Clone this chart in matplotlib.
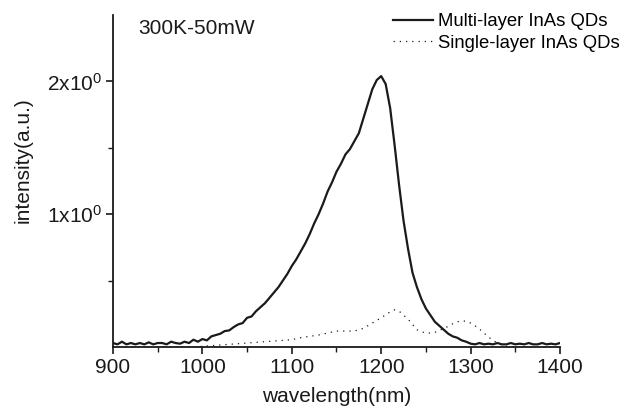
import numpy as np
import matplotlib
matplotlib.use("Agg")
import matplotlib.pyplot as plt
from matplotlib.ticker import FixedLocator

plt.rcParams['font.family'] = ['Liberation Sans', 'DejaVu Sans']
plt.rcParams['mathtext.fontset'] = 'custom'
plt.rcParams['mathtext.rm'] = 'Liberation Sans'
plt.rcParams['mathtext.it'] = 'Liberation Sans:italic'

# Multi-layer InAs QDs (5 nm steps, 900-1400 nm)
multi_wl = list(range(900, 1405, 5))
multi_int = [
    0.03, 0.02, 0.04, 0.02, 0.03, 0.02, 0.03, 0.02, 0.035, 0.02,
    0.03, 0.03, 0.02, 0.04, 0.03, 0.025, 0.04, 0.03, 0.055, 0.04,
    0.06, 0.05, 0.08, 0.09, 0.10, 0.12, 0.125, 0.15, 0.17, 0.18,
    0.22, 0.23, 0.27, 0.30, 0.33, 0.37, 0.41, 0.45, 0.50, 0.55,
    0.61, 0.66, 0.72, 0.78, 0.85, 0.93, 1.00, 1.08, 1.17, 1.24,
    1.32, 1.38, 1.45, 1.49, 1.55, 1.61, 1.72, 1.83, 1.94, 2.01,
    2.04, 1.98, 1.80, 1.52, 1.22, 0.95, 0.74, 0.56, 0.45, 0.36,
    0.29, 0.24, 0.19, 0.16, 0.13, 0.10, 0.08, 0.07, 0.05, 0.04,
    0.025, 0.02, 0.03, 0.02, 0.025, 0.02, 0.03, 0.02, 0.02, 0.03,
    0.02, 0.025, 0.02, 0.03, 0.02, 0.02, 0.03, 0.02, 0.025, 0.02,
    0.03,
]

# Single-layer InAs QDs
single_wl = [900, 950, 990, 1000, 1010, 1020, 1030, 1040, 1050, 1060, 1070,
             1080, 1090, 1100, 1110, 1120, 1130, 1140, 1150, 1160, 1170,
             1180, 1190, 1200, 1210, 1215, 1220, 1225, 1230, 1235, 1240,
             1245, 1250, 1255, 1260, 1265, 1270, 1275, 1280, 1285, 1290,
             1295, 1300, 1305, 1310, 1315, 1320, 1325, 1330, 1335, 1340,
             1350, 1375, 1400]
single_int = [0.0, 0.0, 0.0, 0.005, 0.01, 0.015, 0.02, 0.025, 0.03, 0.035, 0.04,
              0.045, 0.05, 0.055, 0.07, 0.08, 0.09, 0.105, 0.12, 0.12, 0.12,
              0.14, 0.18, 0.22, 0.265, 0.28, 0.27, 0.24, 0.21, 0.17, 0.13,
              0.115, 0.105, 0.105, 0.11, 0.125, 0.14, 0.155, 0.175, 0.19, 0.195,
              0.195, 0.18, 0.16, 0.135, 0.105, 0.075, 0.05, 0.03, 0.015, 0.005,
              0.0, 0.0, 0.0]

x_ticks = [900, 1000, 1100, 1200, 1300, 1400]
x_minor = [950, 1050, 1150, 1250, 1350]
y_ticks = [1, 2]
y_tick_labels = ['1x10$^{0}$', '2x10$^{0}$']
y_minor = [0.5, 1.5]

ink = '#1a1a1a'
fs = 15
lfs = 13.3

fig = plt.figure(figsize=(6.23, 4.07), dpi=100)
ax = fig.add_axes([113/623, 1 - 347/407, (560-113)/623, (347-15)/407])

ax.plot(multi_wl, multi_int, color=ink, lw=1.6, label='Multi-layer InAs QDs')
ax.plot(single_wl, single_int, color=ink, lw=0.9, linestyle=(0, (1, 4)),
        label='Single-layer InAs QDs')

ax.set_xlim(900, 1400)
ax.set_ylim(0, 2.5)
ax.set_xticks(x_ticks)
ax.xaxis.set_minor_locator(FixedLocator(x_minor))
ax.set_yticks(y_ticks)
ax.set_yticklabels(y_tick_labels)
ax.yaxis.set_minor_locator(FixedLocator(y_minor))

for s in ['top', 'right']:
    ax.spines[s].set_visible(False)
for s in ['left', 'bottom']:
    ax.spines[s].set_linewidth(1.3)
    ax.spines[s].set_color(ink)

ax.tick_params(axis='both', which='major', direction='out', length=5, width=1.2,
               labelsize=fs, colors=ink, pad=3)
ax.tick_params(axis='both', which='minor', direction='out', length=3.5, width=1.0,
               colors=ink)

ax.set_xlabel('wavelength(nm)', fontsize=fs, color=ink, labelpad=7)
ax.set_ylabel('intensity(a.u.)', fontsize=fs, color=ink)
ax.yaxis.set_label_coords(-0.179, 0.563)

ax.text(0.056, 0.958, '300K-50mW', transform=ax.transAxes, fontsize=fs,
        color=ink, va='center', ha='left')

fig.legend(loc='upper left', bbox_to_anchor=(393/623, 1 - 13.5/407), frameon=False,
           fontsize=lfs, handlelength=2.16, handletextpad=0.27,
           labelspacing=0.24, borderaxespad=0.0, borderpad=0.0)

fig.savefig('out.png', dpi=100)
